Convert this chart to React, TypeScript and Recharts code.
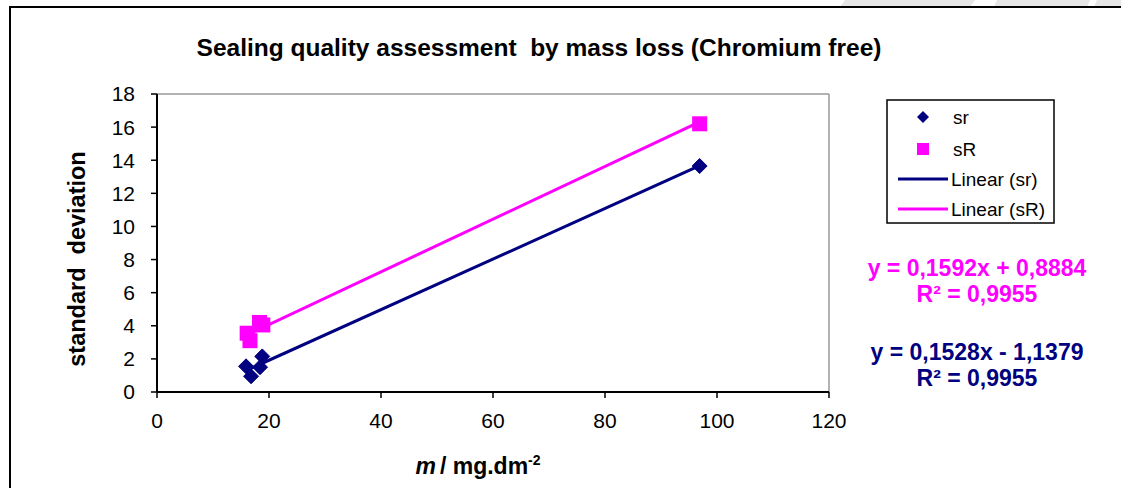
import React from "react";
import { ScatterChart, Scatter, XAxis, YAxis, ReferenceLine } from "recharts";

// ---- data ----
const srX = [15.9, 16.8, 18.4, 18.8, 96.9];
const srY = [1.55, 0.95, 1.5, 2.15, 13.65];
const sRX = [16.1, 16.6, 18.3, 18.9, 96.9];
const sRY = [3.55, 3.1, 4.2, 4.05, 16.2];

const xTicks = [0, 20, 40, 60, 80, 100, 120];
const yTicks = [0, 2, 4, 6, 8, 10, 12, 14, 16, 18];

// trendline coefficients (from the chart's equation labels)
const srSlope = 0.1528;
const srIntercept = -1.1379;
const sRSlope = 0.1592;
const sRIntercept = 0.8884;

const srEquation = "y = 0,1528x - 1,1379";
const sREquation = "y = 0,1592x + 0,8884";
const srR2 = "R² = 0,9955";
const sRR2 = "R² = 0,9955";

const title = "Sealing quality assessment  by mass loss (Chromium free)";
const yLabel = "standard  deviation";

const NAVY = "#000080";
const MAGENTA = "#FF00FF";
const FONT = "'Liberation Sans', Arial, Helvetica, sans-serif";

const srData = srX.map((x, i) => ({ x, y: srY[i] }));
const sRData = sRX.map((x, i) => ({ x, y: sRY[i] }));

const trend = (xs: number[], m: number, b: number) => {
  const lo = Math.min(...xs);
  const hi = Math.max(...xs);
  return [
    { x: lo, y: m * lo + b },
    { x: hi, y: m * hi + b },
  ];
};

const Diamond = (props: any) => {
  const { cx, cy } = props;
  const r = 7.5;
  return (
    <path
      d={`M${cx},${cy - r} L${cx + r},${cy} L${cx},${cy + r} L${cx - r},${cy} Z`}
      fill={NAVY}
      stroke={NAVY}
      strokeWidth={1}
    />
  );
};

const Square = (props: any) => {
  const { cx, cy } = props;
  const s = 7.5;
  return <rect x={cx - s} y={cy - s} width={2 * s} height={2 * s} fill={MAGENTA} />;
};

export default function App() {
  return (
    <div
      style={{
        position: "absolute",
        left: 0,
        top: 0,
        width: 1121,
        height: 488,
        background: "#fff",
        overflow: "hidden",
        fontFamily: FONT,
      }}
    >
      {/* page background + frame */}
      <svg width={1121} height={488} style={{ position: "absolute", left: 0, top: 0 }}>
        <polygon points="845,0 975,0 970,7 840,7" fill="#e6e6e6" />
        <polygon points="997,0 1090,0 1087,7 994,7" fill="#e6e6e6" />
        <polygon points="1097,0 1121,0 1121,7 1094,7" fill="#e6e6e6" />
        <rect x={10} y={7} width={1130} height={500} fill="none" stroke="#000" strokeWidth={2} />
      </svg>

      <div style={{ position: "absolute", left: 0, top: 0 }}>
        <ScatterChart
          width={1121}
          height={488}
          margin={{ top: 94, right: 292, bottom: 56, left: 97 }}
          style={{ fontFamily: FONT }}
        >
          <XAxis
            type="number"
            dataKey="x"
            domain={[0, 120]}
            ticks={xTicks}
            interval={0}
            height={40}
            tickSize={6}
            tickMargin={15}
            axisLine={{ stroke: "#000", strokeWidth: 2 }}
            tickLine={{ stroke: "#000", strokeWidth: 1.5 }}
            tick={{ fill: "#000", fontSize: 21, fontFamily: FONT }}
            allowDataOverflow
          />
          <YAxis
            type="number"
            dataKey="y"
            domain={[0, 18]}
            ticks={yTicks}
            interval={0}
            width={60}
            tickSize={6}
            tickMargin={16}
            axisLine={{ stroke: "#000", strokeWidth: 2 }}
            tickLine={{ stroke: "#000", strokeWidth: 1.5 }}
            tick={{ fill: "#000", fontSize: 21, fontFamily: FONT }}
            allowDataOverflow
          />
          <ReferenceLine y={18} stroke="#999" strokeWidth={1.5} />
          <ReferenceLine x={120} stroke="#999" strokeWidth={1.5} />
          <Scatter name="sr" data={srData} fill={NAVY} shape={Diamond} isAnimationActive={false} />
          <Scatter name="sR" data={sRData} fill={MAGENTA} shape={Square} isAnimationActive={false} />
          <ReferenceLine
            segment={trend(srX, srSlope, srIntercept)}
            stroke={NAVY}
            strokeWidth={3}
            ifOverflow="visible"
          />
          <ReferenceLine
            segment={trend(sRX, sRSlope, sRIntercept)}
            stroke={MAGENTA}
            strokeWidth={3}
            ifOverflow="visible"
          />
        </ScatterChart>
      </div>

      {/* texts, legend, equations */}
      <svg
        width={1121}
        height={488}
        style={{ position: "absolute", left: 0, top: 0, pointerEvents: "none" }}
        fontFamily={FONT}
      >
        <text x={539} y={56} textAnchor="middle" fontSize={24.5} fontWeight="bold" fill="#000" style={{ whiteSpace: "pre" }}>
          {title}
        </text>
        <text
          transform="translate(85,259) rotate(-90)"
          textAnchor="middle"
          fontSize={23.5}
          fontWeight="bold"
          fill="#000"
          style={{ whiteSpace: "pre" }}
        >
          {yLabel}
        </text>
        <text x={478} y={474} textAnchor="middle" fontSize={23} fontWeight="bold" fill="#000">
          <tspan fontStyle="italic">m</tspan>
          <tspan dx={4}>/ mg.dm</tspan>
          <tspan fontSize={14} dy={-9}>-2</tspan>
        </text>

        {/* legend */}
        <rect x={887} y={100} width={167} height={123} fill="#fff" stroke="#000" strokeWidth={1.5} />
        <path d="M923,111 L929,117 L923,123 L917,117 Z" fill={NAVY} />
        <text x={953} y={124} fontSize={19} fill="#000">sr</text>
        <rect x={917} y={143} width={12} height={12} fill={MAGENTA} />
        <text x={953} y={156} fontSize={19} fill="#000">sR</text>
        <line x1={898} y1={179} x2={948} y2={179} stroke={NAVY} strokeWidth={3} />
        <text x={951} y={186} fontSize={19} fill="#000">Linear (sr)</text>
        <line x1={898} y1={209} x2={948} y2={209} stroke={MAGENTA} strokeWidth={3} />
        <text x={951} y={216} fontSize={19} fill="#000">Linear (sR)</text>

        {/* trendline equations */}
        <text x={977} y={276} textAnchor="middle" fontSize={23} fontWeight="bold" fill={MAGENTA}>{sREquation}</text>
        <text x={977} y={302} textAnchor="middle" fontSize={23} fontWeight="bold" fill={MAGENTA}>{sRR2}</text>
        <text x={977} y={360} textAnchor="middle" fontSize={23} fontWeight="bold" fill={NAVY}>{srEquation}</text>
        <text x={977} y={386} textAnchor="middle" fontSize={23} fontWeight="bold" fill={NAVY}>{srR2}</text>
      </svg>
    </div>
  );
}
